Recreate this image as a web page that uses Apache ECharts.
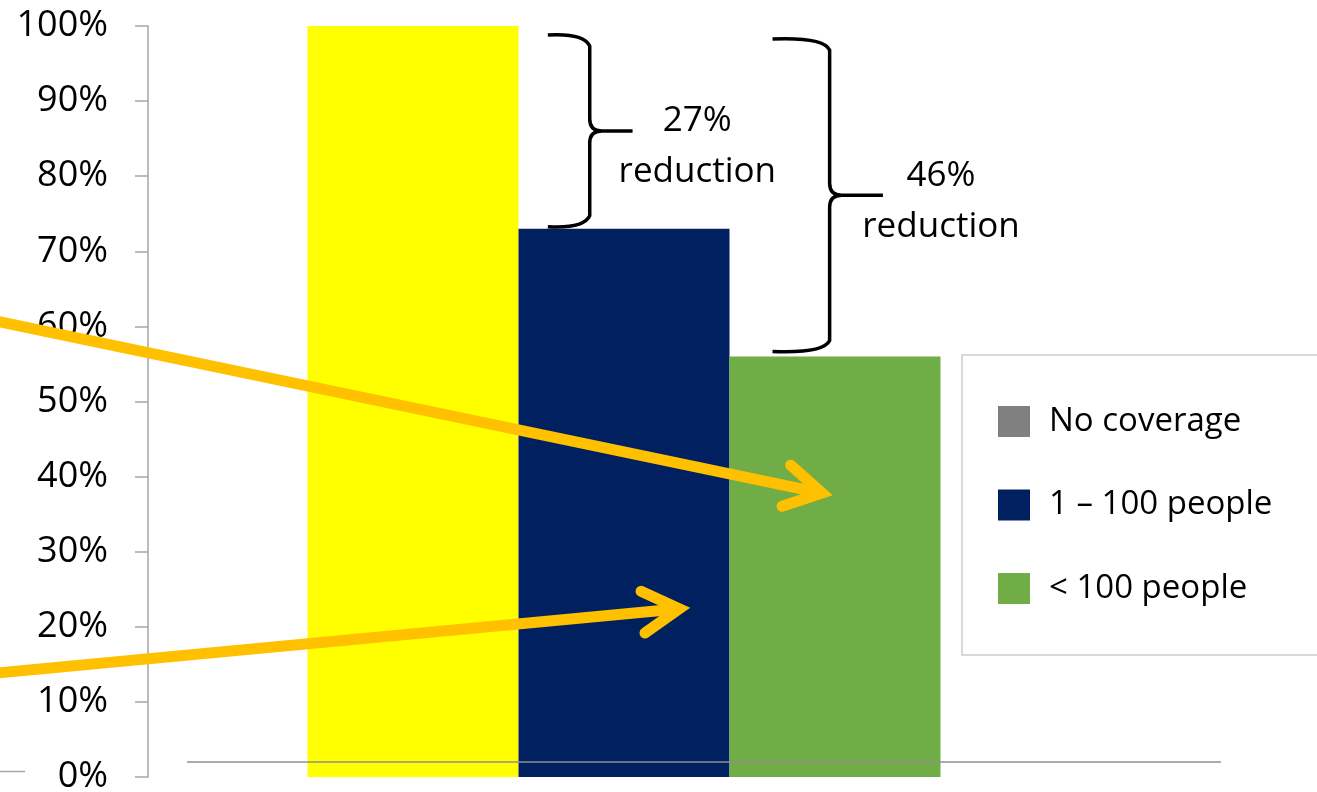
<!DOCTYPE html>
<html>
<head>
<meta charset="utf-8">
<script src="https://cdn.jsdelivr.net/npm/echarts@6/dist/echarts.min.js"></script>
<style>
  html, body { margin: 0; padding: 0; background: #fff; }
  #chart { width: 1317px; height: 792px; }
</style>
</head>
<body>
<div id="chart"></div>
<script>
// ---- data ----
const categories = ['Coverage'];
const seriesNames = ['No coverage', '1 \u2013 100 people', '< 100 people'];
const seriesValues = [100, 73, 56];
const reductionLabels = ['27%\nreduction', '46%\nreduction'];
const yTickLabels = ['0%', '10%', '20%', '30%', '40%', '50%', '60%', '70%', '80%', '90%', '100%'];

// ---- styling ----
const seriesColors = ['#808080', '#002060', '#70AD47'];
const highlightColor = '#FFFF00';
const arrowColor = '#FFC000';
const FONT = '"Open Sans", "Noto Sans", sans-serif';

// annotation layout: x runs 0–100 across the plot width, y is the percent scale
const arrowLayout = [
  { from: [-17, 61.0], to: [70.8, 37.8] },
  { from: [-17, 13.7], to: [55.8, 22.4] }
];
const braceLayout = [
  { upper: 0, lower: 1, xEnd: 42.0, xSpine: 46.4, xTip: 50.9, xText: 57.7, inset: [8, 1], textShift: 16 },
  { upper: 0, lower: 2, xEnd: 65.6, xSpine: 71.6, xTip: 77.2, xText: 83.3, inset: [12, 4], textShift: 6 }
];

const chart = echarts.init(document.getElementById('chart'), null, { renderer: 'canvas' });

function renderArrow(params, api) {
  const a = arrowLayout[params.dataIndex];
  const p0 = api.coord(a.from);
  const p1 = api.coord(a.to);
  const ang = Math.atan2(p1[1] - p0[1], p1[0] - p0[0]);
  const L = 42, half = Math.PI / 6;
  const w1 = [p1[0] - L * Math.cos(ang - half), p1[1] - L * Math.sin(ang - half)];
  const w2 = [p1[0] - L * Math.cos(ang + half), p1[1] - L * Math.sin(ang + half)];
  return {
    type: 'group',
    children: [
      { type: 'line', shape: { x1: p0[0], y1: p0[1], x2: p1[0] - 5 * Math.cos(ang), y2: p1[1] - 5 * Math.sin(ang) },
        style: { stroke: arrowColor, lineWidth: 11, lineCap: 'butt' } },
      { type: 'polyline', shape: { points: [w1, p1, w2] },
        style: { stroke: arrowColor, fill: null, lineWidth: 11, lineCap: 'round', lineJoin: 'miter', miterLimit: 10 } }
    ]
  };
}

function renderBrace(params, api) {
  const b = braceLayout[params.dataIndex];
  const top = api.coord([0, seriesValues[b.upper]])[1] + b.inset[0];
  const bot = api.coord([0, seriesValues[b.lower]])[1] - b.inset[1];
  const xe = api.coord([b.xEnd, 0])[0];
  const xs = api.coord([b.xSpine, 0])[0];
  const xt = api.coord([b.xTip, 0])[0];
  const xl = api.coord([b.xText, 0])[0];
  const mid = (top + bot) / 2;
  const r = 12;
  const d = [
    'M', xe, top + 1,
    'Q', xs - 6, top - 1, xs, top + r,
    'L', xs, mid - r,
    'Q', xs, mid, xs + r, mid,
    'L', xt, mid,
    'M', xs + r, mid,
    'Q', xs, mid, xs, mid + r,
    'L', xs, bot - r,
    'Q', xs - 6, bot + 1, xe, bot - 1
  ].join(' ');
  return {
    type: 'group',
    children: [
      { type: 'path', shape: { pathData: d },
        style: { stroke: '#000', fill: null, lineWidth: 3.5, lineJoin: 'round', lineCap: 'butt' } },
      { type: 'text', x: xl, y: mid + b.textShift,
        style: { text: reductionLabels[params.dataIndex], fill: '#000', fontSize: 35, fontFamily: FONT,
                 align: 'center', verticalAlign: 'middle', lineHeight: 51 } }
    ]
  };
}

const barSeries = seriesNames.map((name, i) => ({
  name: name,
  type: 'bar',
  xAxisIndex: 0,
  yAxisIndex: 0,
  barWidth: 211,
  barGap: '0%',
  itemStyle: { color: seriesColors[i] },
  data: categories.map(() => (i === 0
    ? { value: seriesValues[i], itemStyle: { color: highlightColor } }
    : seriesValues[i]))
}));

const option = {
  animation: false,
  backgroundColor: '#ffffff',
  grid: { left: 148, right: 217, top: 26, bottom: 15, outerBoundsMode: 'none' },
  xAxis: [
    { type: 'category', data: categories, show: false },
    { type: 'value', min: 0, max: 100, show: false }
  ],
  yAxis: {
    type: 'value',
    min: 0, max: 100, interval: 10,
    axisLine: { show: true, lineStyle: { color: '#A6A6A6', width: 1.5 } },
    axisTick: { show: true, length: 13, lineStyle: { color: '#A6A6A6', width: 1.5 } },
    splitLine: { show: false },
    axisLabel: {
      margin: 40,
      color: '#000',
      fontSize: 36,
      fontFamily: FONT,
      formatter: (v) => yTickLabels[Math.round(v / 10)]
    }
  },
  legend: {
    data: seriesNames,
    orient: 'vertical',
    left: 998,
    top: 405,
    padding: 0,
    icon: 'rect',
    itemWidth: 32,
    itemHeight: 31,
    itemGap: 50.5,
    selectedMode: false,
    textStyle: { color: '#000', fontSize: 33, fontFamily: FONT, lineHeight: 31, padding: [0, 0, 0, 14] }
  },
  graphic: [
    { type: 'rect', z: 1, shape: { x: 962, y: 355, width: 400, height: 300 },
      style: { fill: null, stroke: '#D9D9D9', lineWidth: 2 } },
    { type: 'line', z: 100, shape: { x1: 187, y1: 762, x2: 1221, y2: 762 },
      style: { stroke: '#8F8F8F', lineWidth: 1.5 } },
    { type: 'line', z: 100, shape: { x1: 0, y1: 771.5, x2: 25, y2: 771.5 },
      style: { stroke: '#A6A6A6', lineWidth: 1.5 } }
  ],
  series: barSeries.concat([
    {
      name: 'braces',
      type: 'custom',
      xAxisIndex: 1,
      yAxisIndex: 0,
      z: 10,
      clip: false,
      silent: true,
      renderItem: renderBrace,
      data: braceLayout.map((b) => [b.xTip, (seriesValues[b.upper] + seriesValues[b.lower]) / 2])
    },
    {
      name: 'arrows',
      type: 'custom',
      xAxisIndex: 1,
      yAxisIndex: 0,
      z: 20,
      clip: false,
      silent: true,
      renderItem: renderArrow,
      data: arrowLayout.map((a) => a.to)
    }
  ])
};

chart.setOption(option);
</script>
</body>
</html>
